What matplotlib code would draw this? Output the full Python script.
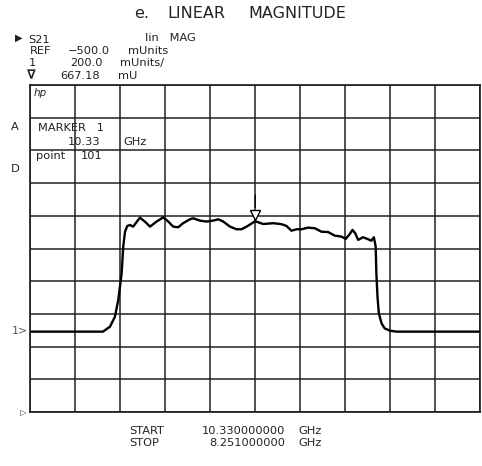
import numpy as np
import matplotlib
matplotlib.use('Agg')
import matplotlib.pyplot as plt
import matplotlib.transforms as mtransforms

# S21 trace, linear magnitude (mUnits) vs. measurement point
points = [1, 27.6, 33.4, 36.5, 38.7, 40.2, 41.7, 42.4, 43.2, 44.2, 45.4, 46.8,
          49.8, 52.0, 54.3, 57.2, 60.2, 62.4, 64.6, 66.8, 69.0, 72.0, 73.5,
          76.4, 79.4, 82.3, 84.6, 86.8, 89.8, 92.7, 94.9, 97.2, 101, 104.5,
          109.0, 112.7, 114.9, 117.1, 119.4, 121.6, 124.5, 127.5, 130.4,
          133.4, 136.3, 139.3, 141.2, 143.0, 144.2, 145.4, 146.7, 148.9,
          151.1, 152.6, 153.7, 154.5, 154.8, 155.3, 155.9, 157.1, 158.5,
          160.8, 163.7, 201]
mag_mU = [-8, -8, -8, 22, 83, 186, 349, 512, 603, 638, 644, 634,
          689, 665, 634, 665, 691, 665, 634, 630, 655, 679, 685,
          671, 665, 671, 679, 665, 634, 618, 618, 634, 667.18, 650,
          655, 649, 638, 609, 618, 618, 628, 624, 603,
          601, 579, 573, 559, 589, 614, 594, 553, 569,
          557, 548, 569, 512, 349, 206, 104, 43, 12,
          -2, -8, -8]

marker_point = 101
marker_value = 667.18
ref_value = -500.0
scale_per_div = 200.0
n_points = 201

W, H = 482, 466
fig = plt.figure(figsize=(W / 100, H / 100), dpi=100)
fig.patch.set_facecolor('white')

def fx(x):
    return x / W

def fy(y):
    return 1 - y / H

ax = fig.add_axes([fx(30), fy(412.1), fx(480.4) - fx(30), fy(85) - fy(412.1)])
ax.set_xlim(1, n_points)
ax.set_ylim(ref_value, ref_value + 10 * scale_per_div)
ax.set_xticks(np.arange(1, n_points + 1, 20))
ax.set_yticks(np.arange(ref_value, ref_value + 10 * scale_per_div + 1, scale_per_div))
ax.tick_params(length=0, labelbottom=False, labelleft=False)
ax.grid(True, color='#222222', linewidth=1.1)
for s in ax.spines.values():
    s.set_color('#1a1a1a')
    s.set_linewidth(1.2)

ax.plot(points, mag_mU, color='black', linewidth=1.7, solid_joinstyle='round')

# marker 1: open triangle with a short stem above the trace point
tri = mtransforms.offset_copy(ax.transData, fig=fig, x=0, y=6, units='dots')
ax.plot([marker_point], [marker_value], marker='v', markersize=7,
        markerfacecolor='white', markeredgecolor='black', markeredgewidth=1.0,
        transform=tri, clip_on=False)
stem_lo = mtransforms.offset_copy(ax.transData, fig=fig, x=0, y=11, units='dots')
ax.annotate('', xy=(marker_point, marker_value), xycoords=stem_lo,
            xytext=(0, 13), textcoords='offset points',
            arrowprops=dict(arrowstyle='-', color='black', lw=0.9))

def label(x, y, s, size=8.2, ha='left', color='#222222', **kw):
    fig.text(fx(x), fy(y), s, fontsize=size, va='center', ha=ha, color=color,
             fontfamily='DejaVu Sans', **kw)

label(134, 13, 'e.', size=11.5)
label(167, 13, 'LINEAR', size=11.5)
label(248, 13, 'MAGNITUDE', size=11.5)

label(15, 38, '\u25B6', size=7)
label(28, 40, 'S21')
label(145, 38, 'lin   MAG')
label(30, 51, 'REF')
label(68, 51, '\u2212500.0')
label(128, 51, 'mUnits')
label(29, 63, '1')
label(70, 63, '200.0')
label(120, 63, 'mUnits/')
label(27, 76, '\u2207', size=9, fontweight='bold')
label(60, 76, '667.18')
label(118, 76, 'mU')

label(34, 93, 'hp', size=7.5, style='italic')
label(11, 127, 'A')
label(11, 169, 'D')
label(38, 128, 'MARKER   1')
label(68, 142, '10.33')
label(123, 142, 'GHz')
label(36, 156, 'point')
label(81, 156, '101')

label(12, 331, '1>', size=8, color='#555555')
label(20, 413, '\u25B7', size=6, color='#333333')

label(129, 431, 'START')
label(129, 443, 'STOP')
label(285, 431, '10.330000000', ha='right')
label(285, 443, '8.251000000', ha='right')
label(298, 431, 'GHz')
label(298, 443, 'GHz')

fig.savefig('out.png', dpi=100)
